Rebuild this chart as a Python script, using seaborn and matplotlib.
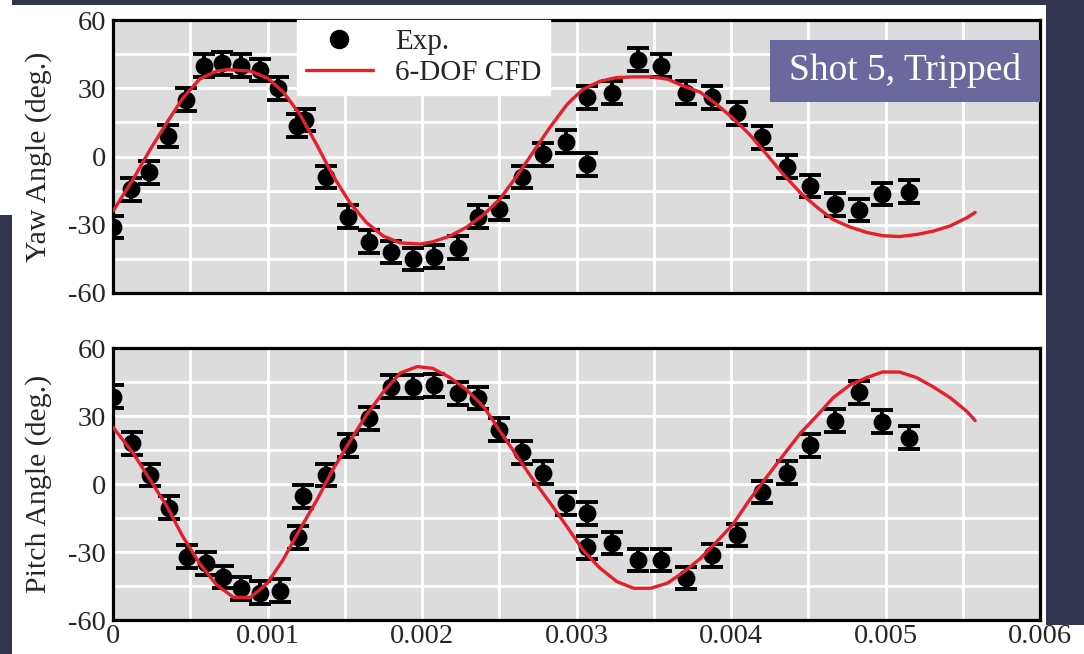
import matplotlib
matplotlib.use("Agg")
import matplotlib.pyplot as plt
from matplotlib.patches import Rectangle
from matplotlib.lines import Line2D
from matplotlib.ticker import MultipleLocator, FixedLocator
import pandas as pd
import seaborn as sns

# ---------------- data ----------------
yaw_exp_t = [0.0, 0.000117, 0.000233, 0.000356, 0.000472, 0.00059, 0.000705, 0.00083, 0.00095,
             0.00107, 0.00119, 0.00124, 0.00138, 0.00152, 0.00166, 0.00180, 0.00194, 0.00208,
             0.00223, 0.00236, 0.00250, 0.00265, 0.00278, 0.00293, 0.00307, 0.00307, 0.00323,
             0.00340, 0.00355, 0.00371, 0.00388, 0.00404, 0.00420, 0.00436, 0.00451, 0.00467,
             0.00483, 0.00498, 0.00515]
yaw_exp = [-31, -14.5, -7, 9, 25, 40, 41, 40, 38, 30, 13.5, 16, -9, -26.5, -37.5, -42, -45, -44,
           -40, -26.5, -23, -9, 1, 6.5, -3.5, 26, 28, 42.5, 40, 28, 26, 19, 8.5, -4.5, -13, -21,
           -23.5, -16.5, -15.5]

pitch_exp_t = [0.0, 0.00012, 0.00024, 0.00036, 0.00048, 0.0006, 0.00071, 0.00083, 0.00095,
               0.00108, 0.0012, 0.00123, 0.00138, 0.00152, 0.00166, 0.0018, 0.00194, 0.00208,
               0.00223, 0.00236, 0.0025, 0.00265, 0.00278, 0.00293, 0.00307, 0.00307, 0.00323,
               0.0034, 0.00355, 0.00371, 0.00388, 0.00404, 0.0042, 0.00436, 0.00451, 0.00467,
               0.00483, 0.00498, 0.00515]
pitch_exp = [38.5, 18, 4, -10.5, -32, -35, -41, -46, -48, -47, -23.5, -5.5, 4, 17, 29, 43, 43,
             43.5, 40, 38, 24, 14, 5, -8.5, -13, -28, -26, -33.5, -33.5, -41.5, -31.5, -22.5,
             -3.5, 5, 17, 28, 40.5, 27.5, 20.5]

exp_err = 5.0

yaw_cfd_t = [0.0, 0.00013, 0.00024, 0.00035, 0.00045, 0.00056, 0.00067, 0.00074, 0.00089, 0.0010,
             0.0011, 0.00121, 0.00132, 0.00142, 0.00153, 0.00164, 0.00175, 0.00186, 0.00199,
             0.00207, 0.00218, 0.00229, 0.0024, 0.0025, 0.00261, 0.00272, 0.00283, 0.00294,
             0.00304, 0.00315, 0.00326, 0.00337, 0.00348, 0.00359, 0.00369, 0.0038, 0.0039,
             0.00401, 0.00412, 0.00423, 0.00434, 0.00445, 0.00456, 0.00466, 0.00477, 0.00488,
             0.00498, 0.00509, 0.0052, 0.00531, 0.00542, 0.00553, 0.00558]
yaw_cfd = [-24, -10, 3, 15, 25.5, 34, 37.5, 38.2, 37.5, 34.5, 28.5, 18.5, 5, -8, -20, -29, -35,
           -38, -38.5, -37.5, -35, -31, -25.5, -19, -9, 2, 13, 23, 29.5, 33, 34.7, 35, 35, 34, 31,
           28.3, 23.3, 17, 9.7, 1, -8, -16, -22.5, -27.7, -31, -33.4, -34.8, -35.2, -34.3, -32.8,
           -30.5, -26.8, -24.6]

pitch_cfd_t = [0.0, 0.00013, 0.00024, 0.00035, 0.00045, 0.00056, 0.00067, 0.00078, 0.00089, 0.0010,
               0.0011, 0.00121, 0.00132, 0.00142, 0.00153, 0.00164, 0.00175, 0.00186, 0.00197,
               0.00207, 0.00218, 0.00229, 0.0024, 0.0025, 0.00261, 0.00272, 0.00283, 0.00294,
               0.00304, 0.00315, 0.00326, 0.00337, 0.00348, 0.00359, 0.00369, 0.0038, 0.0039,
               0.00401, 0.00412, 0.00423, 0.00434, 0.00445, 0.00456, 0.00466, 0.00477, 0.00488,
               0.00498, 0.00509, 0.0052, 0.00531, 0.00542, 0.00553, 0.00558]
pitch_cfd = [25, 13.7, 1.8, -10, -23, -35, -44.5, -50, -50, -43.7, -33.5, -20, -7, 6, 18.5, 30.4,
             40.6, 49, 51.8, 51, 47, 41.5, 34, 23.8, 12.8, 1.8, -8.4, -19, -29, -37, -43, -46, -46,
             -43.7, -39, -33, -26, -18, -7, 3, 12.8, 22.5, 30.4, 38, 43.7, 47, 49.4, 49.4, 47,
             42.8, 38, 31.8, 28]

x_ticks = [0, 0.001, 0.002, 0.003, 0.004, 0.005, 0.006]
x_tick_labels = ["0", "0.001", "0.002", "0.003", "0.004", "0.005", "0.006"]
y_ticks = [-60, -30, 0, 30, 60]
y_tick_labels = ["-60", "-30", "0", "30", "60"]
legend_labels = ["Exp.", "6-DOF CFD"]
panel_labels = ["Yaw Angle (deg.)", "Pitch Angle (deg.)"]
badge_text = "Shot 5, Tripped"

# ---------------- style ----------------
sns.set_style("darkgrid", {"axes.facecolor": "#dcdcdc", "grid.color": "white"})
plt.rcParams["font.family"] = ["Liberation Serif", "DejaVu Serif"]

W, H = 1084, 654
fig = plt.figure(figsize=(W / 100, H / 100), dpi=100)
fig.patch.set_facecolor("white")

NAVY = "#33344f"
def px_rect(x0, y0, x1, y1, color, z=0):
    r = Rectangle((x0 / W, 1 - y1 / H), (x1 - x0) / W, (y1 - y0) / H,
                  transform=fig.transFigure, facecolor=color, edgecolor="none", zorder=z)
    fig.add_artist(r)

# slide background pieces around the chart picture
px_rect(12, 0, 1084, 5, NAVY)
px_rect(0, 215, 12, 654, NAVY)
px_rect(1046, 0, 1084, 625, NAVY)

RED = "#e3202b"
TICK_FS = 20.5
LABEL_FS = 21.5

def setup(ax, show_x):
    ax.set_facecolor("#dcdcdc")
    ax.set_xlim(0, 0.006)
    ax.set_ylim(-60, 60)
    ax.xaxis.set_major_locator(FixedLocator(x_ticks))
    ax.yaxis.set_major_locator(FixedLocator(y_ticks))
    ax.xaxis.set_minor_locator(MultipleLocator(0.0005))
    ax.yaxis.set_minor_locator(MultipleLocator(15))
    ax.grid(True, which="both", color="white", linewidth=2.0)
    ax.set_axisbelow(True)
    ax.set_yticklabels(y_tick_labels, fontsize=TICK_FS)
    if show_x:
        ax.set_xticklabels(x_tick_labels, fontsize=TICK_FS)
    else:
        ax.set_xticklabels([])
    ax.tick_params(axis="both", which="both", length=0, pad=3)
    ax.tick_params(axis="y", pad=5)
    for s in ax.spines.values():
        s.set_visible(True)
        s.set_color("black")
        s.set_linewidth(2.3)
    ax.set_xlabel("")

def draw(ax, t, y, ct, cy):
    ax.errorbar(t, y, yerr=exp_err, fmt="none", ecolor="black", elinewidth=2.8,
                capsize=8, capthick=2.8, zorder=3)
    sns.scatterplot(x=t, y=y, ax=ax, color="black", s=165, edgecolor="black",
                    linewidth=0, zorder=4, legend=False)
    sns.lineplot(x=ct, y=cy, ax=ax, color=RED, linewidth=2.4, estimator=None,
                 sort=False, zorder=5, legend=False)

ax1 = fig.add_axes([113 / W, 1 - 293 / H, 927 / W, 273 / H])
ax2 = fig.add_axes([113 / W, 1 - 620 / H, 927 / W, 272 / H])

draw(ax1, yaw_exp_t, yaw_exp, yaw_cfd_t, yaw_cfd)
draw(ax2, pitch_exp_t, pitch_exp, pitch_cfd_t, pitch_cfd)
setup(ax1, False)
setup(ax2, True)

ax1.set_ylabel(panel_labels[0], fontsize=LABEL_FS)
ax2.set_ylabel(panel_labels[1], fontsize=LABEL_FS)
ax1.yaxis.set_label_coords(-0.066, 0.5)
ax2.yaxis.set_label_coords(-0.066, 0.5)

handles = [Line2D([], [], marker="o", color="black", linestyle="none", markersize=13),
           Line2D([], [], color=RED, linewidth=2.4)]
leg = ax1.legend(handles, legend_labels, loc="upper left", bbox_to_anchor=(0.1985, 1.0),
                 fontsize=21, frameon=True, fancybox=False, framealpha=1.0,
                 edgecolor="white", facecolor="white", handlelength=2.3,
                 handletextpad=0.75, borderpad=0.3, labelspacing=0.15, borderaxespad=0.0)
leg.set_zorder(10)

# badge
px_rect(770, 40, 1040, 102, "#6a689c", z=20)
fig.text(905 / W, 1 - 71 / H, badge_text, color="white", fontsize=27,
         ha="center", va="center", zorder=21)

fig.savefig("out.png", dpi=100)
